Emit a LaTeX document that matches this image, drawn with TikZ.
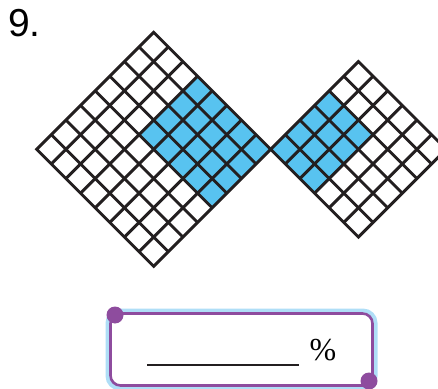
\documentclass[tikz,border=0pt]{standalone}
\usepackage{fontspec}
\setmainfont{Liberation Serif}
\newfontfamily\numfont{Liberation Sans}
\definecolor{cellblue}{RGB}{88,195,240}
\definecolor{boxpurple}{RGB}{142,76,158}
\definecolor{glowblue}{RGB}{175,222,247}
\definecolor{inkblack}{RGB}{35,31,32}
\begin{document}
\begin{tikzpicture}[x = 1pt, y = 1pt, line join = miter,
        gridline/.style = {line width = 2.9pt, inkblack},
        corner dot/.style = {circle, fill = boxpurple, inner sep = 0, minimum size = 17pt}]
        \pgfmathsetmacro{\side}{20.68}
        \useasboundingbox (0, 0) rectangle (438, 388);
        \clip (0, 0) rectangle (438, 388);
        \node [anchor = base west, inner sep = 0] (num) at (8, 351) {\numfont\fontsize{39}{39}\selectfont 9.};

        % left square, 8 by 8
        \begin{scope}[shift = {(36.7, 238.7)}, rotate = -45]
            \fill [cellblue] (3*\side, 4*\side) rectangle (8*\side, 8*\side);
            \foreach \i in {1,...,7} {
                \draw [gridline] (\i*\side, 0) -- (\i*\side, 8*\side);
                \draw [gridline] (0, \i*\side) -- (8*\side, \i*\side);
            }
            \draw [gridline] (0, 0) rectangle (8*\side, 8*\side);
        \end{scope}

        % right square, 6 by 6
        \begin{scope}[shift = {(270.7, 238.7)}, rotate = -45]
            \fill [cellblue] (0, 0) rectangle (3*\side, 4*\side);
            \foreach \i in {1,...,5} {
                \draw [gridline] (\i*\side, 0) -- (\i*\side, 6*\side);
                \draw [gridline] (0, \i*\side) -- (6*\side, \i*\side);
            }
            \draw [gridline] (0, 0) rectangle (6*\side, 6*\side);
        \end{scope}

        % answer box
        \draw [line width = 5pt, glowblue, rounded corners = 12pt] (108, 0) rectangle (375, 77);
        \draw [line width = 2.6pt, boxpurple, fill = white, rounded corners = 10pt] (110.5, 2.5) rectangle (372.5, 74.5);
        \node [corner dot] (dotA) at (115, 73) {};
        \node [corner dot] (dotB) at (369, 7) {};
        \coordinate (lineA) at (147, 23);
        \coordinate (lineB) at (299, 23);
        \draw [line width = 2.4pt, inkblack] (lineA) -- (lineB);
        \node [anchor = base, inner sep = 0] (pct) at (323, 28) {\fontsize{32}{32}\selectfont \%};
    \end{tikzpicture}
\end{document}
